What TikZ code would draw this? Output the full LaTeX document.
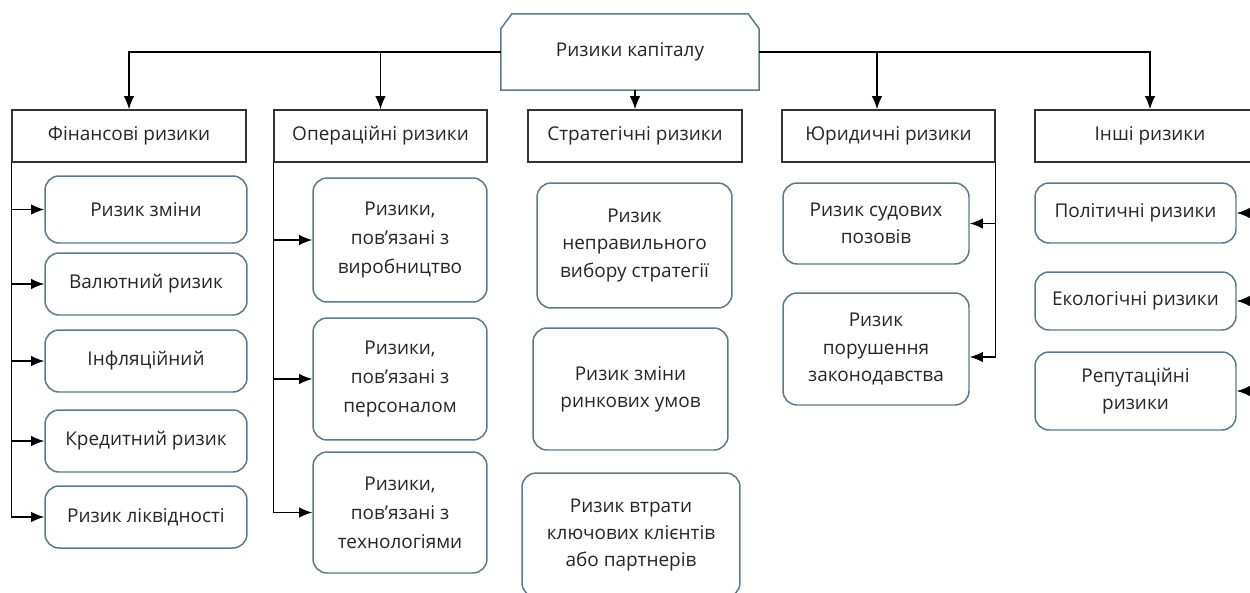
\documentclass[tikz,border=0pt]{standalone}
\usepackage{fontspec}
\setmainfont{Open Sans}
\usetikzlibrary{positioning, calc, arrows.meta}
\definecolor{edgeblue}{HTML}{5B7A8E}
\definecolor{txtgray}{HTML}{262626}

\begin{document}
\begin{tikzpicture}[x=0.02cm, y=-0.02cm, ->, >={Latex[length=7.5pt,width=6pt]}, line width=0.8pt,
  every node/.style={font=\fontsize{10.8}{15.5}\selectfont, text=txtgray, align=center},
  cat/.style={draw=black!80, line width=0.85pt, rectangle, minimum height=1.04cm, inner sep=2pt},
  item/.style={draw=edgeblue, line width=0.85pt, rectangle, rounded corners=8pt, inner sep=2pt},
  ]
  \useasboundingbox (0,0) rectangle (1250,592);

  % head
  \node[minimum width=5.14cm, minimum height=1.5cm] (cap) at (630,52) {Ризики капіталу};
  \draw[-, draw=edgeblue, line width=0.85pt] ([yshift=-.3cm]cap.north west) -- ([xshift=.22cm]cap.north west)
    -- ([xshift=-.22cm]cap.north east) -- ([yshift=-.3cm]cap.north east)
    -- (cap.south east) -- (cap.south west) -- cycle;

  % groups
  \node[cat, minimum width=4.68cm] (fin) at (129,136) {Фінансові ризики};
  \node[cat, minimum width=4.26cm] (oper) at (380.5,136) {Операційні ризики};
  \node[cat, minimum width=4.28cm] (strat) at (635,136) {Стратегічні ризики};
  \node[cat, minimum width=4.26cm] (legal) at (888.5,136) {Юридичні ризики};
  \node[cat, minimum width=4.6cm] (other) at (1150,136) {Інші ризики};

  % financial
  \node[item, minimum width=4.04cm, minimum height=1.34cm] (fin1) at (146,209.5) {Ризик зміни};
  \node[item, minimum width=4.04cm, minimum height=1.24cm] (fin2) at (146,284) {Валютний ризик};
  \node[item, minimum width=4.04cm, minimum height=1.24cm] (fin3) at (146,361) {Інфляційний};
  \node[item, minimum width=4.04cm, minimum height=1.24cm] (fin4) at (146,441) {Кредитний ризик};
  \node[item, minimum width=4.04cm, minimum height=1.24cm] (fin5) at (146,517) {Ризик ліквідності};

  % operational
  \node[item, minimum width=3.48cm, minimum height=2.48cm, font=\fontsize{10.8}{16.5}\selectfont] (oper1) at (400,240) {Ризики,\\ пов’язані з\\ виробництво};
  \node[item, minimum width=3.48cm, minimum height=2.44cm, font=\fontsize{10.8}{16.5}\selectfont] (oper2) at (400,379) {Ризики,\\ пов’язані з\\ персоналом};
  \node[item, minimum width=3.48cm, minimum height=2.42cm, font=\fontsize{10.8}{16.5}\selectfont] (oper3) at (400,512.5) {Ризики,\\ пов’язані з\\ технологіями};

  % strategic
  \node[item, minimum width=3.9cm, minimum height=2.5cm] (strat1) at (634.5,245.5) {Ризик\\ неправильного\\ вибору стратегії};
  \node[item, minimum width=3.9cm, minimum height=2.44cm] (strat2) at (630.5,389) {Ризик зміни\\ ринкових умов};
  \node[item, minimum width=4.36cm, minimum height=2.48cm] (strat3) at (631,535) {Ризик втрати\\ ключових клієнтів\\ або партнерів};

  % legal
  \node[item, minimum width=3.72cm, minimum height=1.62cm] (legal1) at (876,223.5) {Ризик судових\\ позовів};
  \node[item, minimum width=3.72cm, minimum height=2.24cm] (legal2) at (876,349) {Ризик\\ порушення\\ законодавства};

  % other
  \node[item, minimum width=4.02cm, minimum height=1.2cm] (oth1) at (1135.5,213) {Політичні ризики};
  \node[item, minimum width=4.02cm, minimum height=1.16cm] (oth2) at (1135.5,301) {Екологічні ризики};
  \node[item, minimum width=4.02cm, minimum height=1.56cm] (oth3) at (1135.5,391) {Репутаційні\\ ризики};
  \coordinate (othbus) at (1257,162);

  \draw (cap.west) -| (fin.north);
  \draw (cap.west) -| (oper.north);
  \draw (cap.east) -| ([xshift=-.23cm]legal.north);
  \draw (cap.east) -| (other.north);
  \draw (strat.north |- cap.south) -- (strat.north);

  \draw (fin.south west) |- (fin1.west);
  \draw (fin.south west) |- (fin2.west);
  \draw (fin.south west) |- (fin3.west);
  \draw (fin.south west) |- (fin4.west);
  \draw (fin.south west) |- (fin5.west);

  \draw (oper.south west) |- (oper1.west);
  \draw (oper.south west) |- (oper2.west);
  \draw (oper.south west) |- (oper3.west);

  \draw (legal.south east) |- (legal1.east);
  \draw (legal.south east) |- ([yshift=-.16cm]legal2.east);

  \draw (othbus) |- (oth1.east);
  \draw (othbus) |- (oth2.east);
  \draw (othbus) |- (oth3.east);
\end{tikzpicture}
\end{document}
